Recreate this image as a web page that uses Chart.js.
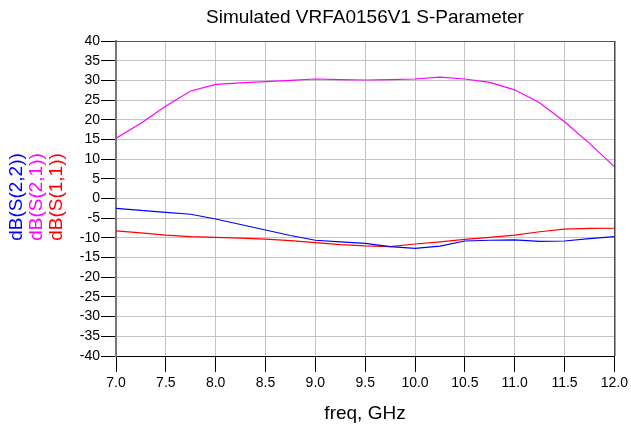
<!DOCTYPE html>
<html>
<head>
<meta charset="utf-8">
<script src="https://cdn.jsdelivr.net/npm/chart.js@4"></script>
<style>
  html, body { margin: 0; padding: 0; background: #fff; }
  #wrap { width: 631px; height: 430px; }
</style>
</head>
<body>
<div id="wrap"><canvas id="sparChart" width="631" height="430"></canvas></div>
<script>
// frequency points (GHz)
const freq = [7.0, 7.25, 7.5, 7.75, 8.0, 8.25, 8.5, 8.75, 9.0, 9.25, 9.5,
              9.75, 10.0, 10.25, 10.5, 10.75, 11.0, 11.25, 11.5, 11.75, 12.0];
// dB values
const s21 = [15.3, 19.1, 23.5, 27.3, 29.0, 29.35, 29.7, 30.0, 30.35, 30.2, 30.1,
             30.2, 30.35, 30.8, 30.35, 29.5, 27.6, 24.3, 19.5, 14.0, 8.1];
const s22 = [-2.5, -3.0, -3.5, -4.0, -5.2, -6.6, -8.0, -9.4, -10.6, -11.0, -11.4,
             -12.2, -12.65, -12.1, -10.8, -10.6, -10.5, -10.9, -10.8, -10.2, -9.7];
const s11 = [-8.2, -8.75, -9.3, -9.7, -9.85, -10.05, -10.3, -10.7, -11.2, -11.7, -12.05,
             -12.2, -11.55, -11.0, -10.4, -9.85, -9.3, -8.45, -7.8, -7.6, -7.55];

const seriesNames = ['dB(S(2,2))', 'dB(S(2,1))', 'dB(S(1,1))'];
const seriesColors = ['#0000ff', '#ff00ff', '#ff0000'];
const FONT = 'Liberation Sans, Arial, sans-serif';

function pts(vals) {
    return freq.map((f, i) => ({ x: f, y: vals[i] }));
}

// title, axis label, rotated legend, top/right frame
const decorPlugin = {
    id: 'decor',
    afterDraw(chart) {
        const c = chart.ctx;
        const a = chart.chartArea;
        c.save();
        c.lineWidth = 1;
        c.strokeStyle = '#555';
        c.beginPath();
        c.moveTo(a.left, a.top + 0.5);
        c.lineTo(a.right, a.top + 0.5);
        c.stroke();
        c.strokeStyle = '#000';
        c.beginPath();
        c.moveTo(a.right + 0.5, a.top);
        c.lineTo(a.right + 0.5, a.bottom);
        c.stroke();

        c.fillStyle = '#000';
        c.textAlign = 'center';
        c.textBaseline = 'middle';
        c.font = '19px ' + FONT;
        c.fillText('Simulated VRFA0156V1 S-Parameter', 365, 18);
        c.fillText('freq, GHz', 365, 414);

        const xs = [17, 37, 57];
        seriesNames.forEach((name, i) => {
            c.save();
            c.translate(xs[i], 197);
            c.rotate(-Math.PI / 2);
            c.fillStyle = seriesColors[i];
            c.fillText(name, 0, 0);
            c.restore();
        });
        c.restore();
    }
};

const ctx = document.getElementById('sparChart');
new Chart(ctx, {
    type: 'line',
    data: {
        datasets: [
            { label: seriesNames[0], data: pts(s22), borderColor: seriesColors[0] },
            { label: seriesNames[1], data: pts(s21), borderColor: seriesColors[1] },
            { label: seriesNames[2], data: pts(s11), borderColor: seriesColors[2] }
        ].map(d => Object.assign(d, { borderWidth: 1.2, pointRadius: 0, tension: 0, fill: false }))
    },
    options: {
        responsive: false,
        animation: false,
        layout: { padding: { top: 41, right: 14, left: 0, bottom: 0 } },
        plugins: {
            legend: { display: false },
            title: { display: false },
            tooltip: { enabled: false }
        },
        scales: {
            x: {
                type: 'linear',
                min: 7, max: 12,
                afterFit: s => { s.height = 74; },
                ticks: {
                    stepSize: 0.5,
                    autoSkip: false,
                    color: '#000',
                    padding: 3,
                    maxRotation: 0,
                    font: { family: FONT, size: 14 },
                    callback: v => v.toFixed(1)
                },
                grid: { color: '#c4c4c4', tickColor: '#000', tickLength: 16 },
                border: { color: '#000', width: 1 }
            },
            y: {
                min: -40, max: 40,
                afterFit: s => { s.width = 116; },
                ticks: {
                    stepSize: 5,
                    autoSkip: false,
                    color: '#000',
                    padding: 1,
                    font: { family: FONT, size: 14 }
                },
                grid: { color: '#c4c4c4', tickColor: '#000', tickLength: 15 },
                border: { color: '#777', width: 2 }
            }
        }
    },
    plugins: [decorPlugin]
});
</script>
</body>
</html>
